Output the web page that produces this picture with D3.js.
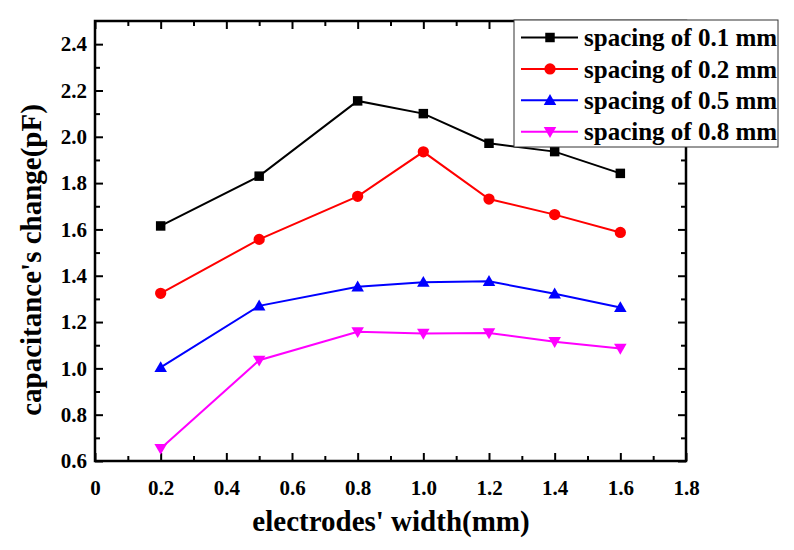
<!DOCTYPE html>
<html>
<head>
<meta charset="utf-8">
<script src="https://cdn.jsdelivr.net/npm/d3@7"></script>
<style>
body { margin: 0; background: #fff; }
text { font-family: "Liberation Serif", "Times New Roman", serif; font-weight: bold; }
</style>
</head>
<body>
<div id="chart"></div>
<script>
// electrodes' width (mm)
var widths = [0.2, 0.5, 0.8, 1.0, 1.2, 1.4, 1.6];
// capacitance's change (pF) per spacing
var spacing01 = [1.615, 1.83, 2.155, 2.10, 1.972, 1.936, 1.842];
var spacing02 = [1.324, 1.557, 1.743, 1.935, 1.731, 1.664, 1.587];
var spacing05 = [1.004, 1.27, 1.352, 1.372, 1.376, 1.322, 1.263];
var spacing08 = [0.654, 1.035, 1.158, 1.151, 1.153, 1.115, 1.086];
var seriesNames = ["spacing of 0.1 mm", "spacing of 0.2 mm", "spacing of 0.5 mm", "spacing of 0.8 mm"];
var xTicks = [0, 0.2, 0.4, 0.6, 0.8, 1.0, 1.2, 1.4, 1.6, 1.8];
var xMinor = [0.1, 0.3, 0.5, 0.7, 0.9, 1.1, 1.3, 1.5, 1.7];
var yTicks = [0.6, 0.8, 1.0, 1.2, 1.4, 1.6, 1.8, 2.0, 2.2, 2.4];
var yMinor = [0.7, 0.9, 1.1, 1.3, 1.5, 1.7, 1.9, 2.1, 2.3];

var W = 794, H = 550;
var margin = { top: 21, right: 108, bottom: 89, left: 95 };
var width = W - margin.left - margin.right,
    height = H - margin.top - margin.bottom;

var series = [
    { name: seriesNames[0], values: spacing01, color: "#000000", shape: "square" },
    { name: seriesNames[1], values: spacing02, color: "#ff0000", shape: "circle" },
    { name: seriesNames[2], values: spacing05, color: "#0000ff", shape: "up" },
    { name: seriesNames[3], values: spacing08, color: "#ff00ff", shape: "down" }
];

var svg = d3.select("#chart").append("svg")
    .attr("width", W)
    .attr("height", H);

var g = svg.append("g")
    .attr("transform", "translate(" + margin.left + "," + margin.top + ")");

var x = d3.scaleLinear().domain([0, 1.8]).range([0, width]);
var y = d3.scaleLinear().domain([0.6, 2.5]).range([height, 0]);

function fmtX(d) { return d === 0 ? "0" : d3.format(".1f")(d); }

// major and minor ticks, all pointing inwards
function drawAxis(axisFn, scale, ticks, size, fmt, transform) {
    var a = g.append("g")
        .attr("transform", transform)
        .call(axisFn(scale).tickValues(ticks).tickSizeInner(size).tickSizeOuter(0)
            .tickPadding(fmt ? 12 : 0).tickFormat(fmt || ""));
    a.select(".domain").remove();
    a.selectAll("line").attr("stroke", "#000").attr("stroke-width", 2);
    a.selectAll("text").attr("fill", "#000").style("font-size", "21px");
    return a;
}

var bx = drawAxis(d3.axisBottom, x, xTicks, -8, fmtX, "translate(0," + height + ")");
bx.selectAll("text").attr("y", 19).attr("dy", "0.71em");
drawAxis(d3.axisBottom, x, xMinor, -5, null, "translate(0," + height + ")");
drawAxis(d3.axisTop, x, xTicks, -8, null, "translate(0,0)");
drawAxis(d3.axisTop, x, xMinor, -5, null, "translate(0,0)");

var ly = drawAxis(d3.axisLeft, y, yTicks, -8, d3.format(".1f"), "translate(0,0)");
ly.selectAll("text").attr("x", -8);
drawAxis(d3.axisLeft, y, yMinor, -5, null, "translate(0,0)");
drawAxis(d3.axisRight, y, yTicks, -8, null, "translate(" + width + ",0)");
drawAxis(d3.axisRight, y, yMinor, -5, null, "translate(" + width + ",0)");

g.append("rect")
    .attr("width", width)
    .attr("height", height)
    .attr("fill", "none")
    .attr("stroke", "#000")
    .attr("stroke-width", 2.5);

function symbolPath(shape) {
    if (shape === "square") return d3.symbol().type(d3.symbolSquare).size(90)();
    if (shape === "circle") return d3.symbol().type(d3.symbolCircle).size(100)();
    return d3.symbol().type(d3.symbolTriangle).size(68)();
}
function symbolTransform(shape, px, py) {
    var t = "translate(" + px + "," + py + ")";
    if (shape === "up") t += " translate(0,1)";
    if (shape === "down") t += " translate(0,-1) rotate(180)";
    return t;
}

var line = d3.line()
    .x(function (d, i) { return x(widths[i]); })
    .y(function (d) { return y(d); });

series.forEach(function (s) {
    g.append("path")
        .datum(s.values)
        .attr("fill", "none")
        .attr("stroke", s.color)
        .attr("stroke-width", 2)
        .attr("d", line);

    g.selectAll(null)
        .data(s.values)
        .enter().append("path")
        .attr("d", symbolPath(s.shape))
        .attr("fill", s.color)
        .attr("transform", function (d, i) { return symbolTransform(s.shape, x(widths[i]), y(d)); });
});

// axis titles
svg.append("text")
    .attr("x", 391)
    .attr("y", 531)
    .attr("text-anchor", "middle")
    .style("font-size", "29px")
    .text("electrodes' width(mm)");

svg.append("text")
    .attr("transform", "translate(41,260) rotate(-90)")
    .attr("text-anchor", "middle")
    .style("font-size", "29px")
    .text("capacitance's change(pF)");

// legend
var legend = svg.append("g").attr("transform", "translate(514,20)");
legend.append("rect")
    .attr("width", 264)
    .attr("height", 127)
    .attr("fill", "#fff")
    .attr("stroke", "#333")
    .attr("stroke-width", 1);

var item = legend.selectAll(".item")
    .data(series)
    .enter().append("g")
    .attr("class", "item")
    .attr("transform", function (d, i) { return "translate(0," + (17.5 + i * 31.4) + ")"; });

item.append("line")
    .attr("x1", 7).attr("x2", 64)
    .attr("stroke", function (d) { return d.color; })
    .attr("stroke-width", 2);

item.append("path")
    .attr("d", function (d) { return symbolPath(d.shape); })
    .attr("fill", function (d) { return d.color; })
    .attr("transform", function (d) { return symbolTransform(d.shape, 36, 0); });

item.append("text")
    .attr("x", 70)
    .attr("dy", "0.35em")
    .style("font-size", "25px")
    .text(function (d) { return d.name; });
</script>
</body>
</html>
